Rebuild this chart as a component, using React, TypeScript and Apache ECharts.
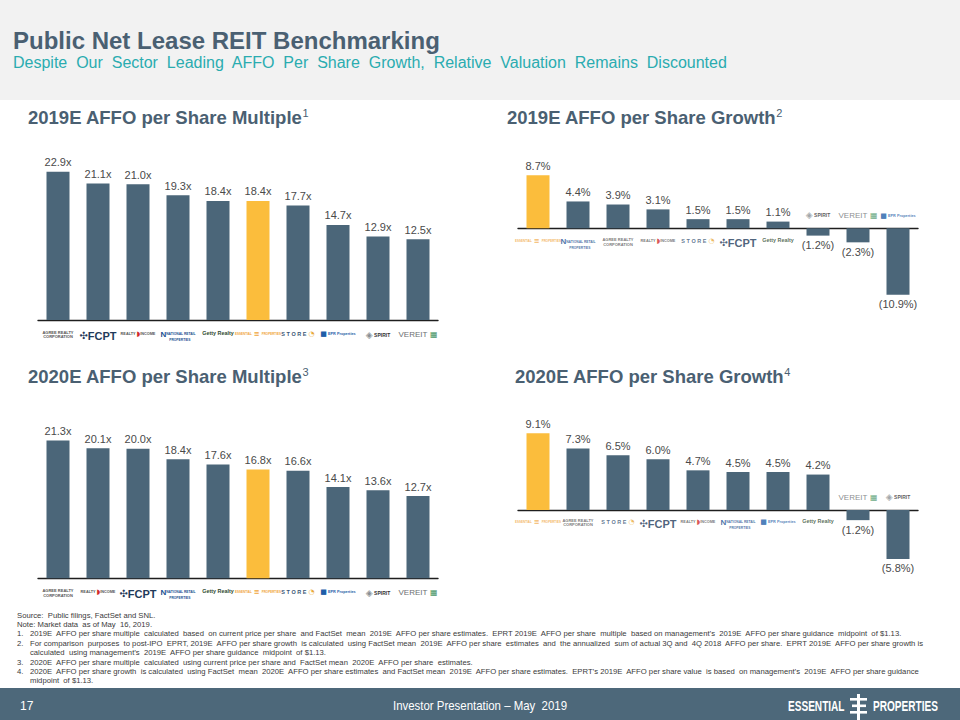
import React, { useEffect, useRef } from 'react';
import * as echarts from 'echarts';

// ---------- data ----------
const mult2019Companies = ['Agree Realty', 'FCPT', 'Realty Income', 'National Retail Properties', 'Getty Realty', 'Essential Properties', 'STORE Capital', 'EPR Properties', 'Spirit Realty', 'VEREIT'];
const mult2019Values = [22.9, 21.1, 21.0, 19.3, 18.4, 18.4, 17.7, 14.7, 12.9, 12.5];

const growth2019Companies = ['Essential Properties', 'National Retail Properties', 'Agree Realty', 'Realty Income', 'STORE Capital', 'FCPT', 'Getty Realty', 'Spirit Realty', 'VEREIT', 'EPR Properties'];
const growth2019Values = [8.7, 4.4, 3.9, 3.1, 1.5, 1.5, 1.1, -1.2, -2.3, -10.9];

const mult2020Companies = ['Agree Realty', 'Realty Income', 'FCPT', 'National Retail Properties', 'Getty Realty', 'Essential Properties', 'STORE Capital', 'EPR Properties', 'Spirit Realty', 'VEREIT'];
const mult2020Values = [21.3, 20.1, 20.0, 18.4, 17.6, 16.8, 16.6, 14.1, 13.6, 12.7];

const growth2020Companies = ['Essential Properties', 'Agree Realty', 'STORE Capital', 'FCPT', 'Realty Income', 'National Retail Properties', 'EPR Properties', 'Getty Realty', 'VEREIT', 'Spirit Realty'];
const growth2020Values = [9.1, 7.3, 6.5, 6.0, 4.7, 4.5, 4.5, 4.2, -1.2, -5.8];

const footnotes = [
  { n: '', t: 'Source:  Public filings, FactSet and SNL.' },
  { n: '', t: 'Note: Market data  as of May  16, 2019.' },
  { n: '1.', t: '2019E  AFFO per share multiple  calculated  based  on current price per share  and FactSet  mean  2019E  AFFO per share estimates.  EPRT 2019E  AFFO per share  multiple  based on management\u2019s  2019E  AFFO per share guidance  midpoint  of $1.13.' },
  { n: '2.', t: 'For comparison  purposes  to post-IPO  EPRT, 2019E  AFFO per share growth  is calculated  using FactSet mean  2019E  AFFO per share  estimates  and  the annualized  sum of actual 3Q and  4Q 2018  AFFO per share.  EPRT 2019E  AFFO per share growth is' },
  { n: '', t: 'calculated  using management\u2019s  2019E  AFFO per share guidance  midpoint  of $1.13.' },
  { n: '3.', t: '2020E  AFFO per share multiple  calculated  using current price per share and  FactSet mean  2020E  AFFO per share  estimates.' },
  { n: '4.', t: '2020E  AFFO per share growth  is calculated  using FactSet  mean  2020E  AFFO per share estimates  and FactSet mean  2019E  AFFO per share estimates.  EPRT\u2019s 2019E  AFFO per share value  is based  on management\u2019s  2019E  AFFO per share guidance' },
  { n: '', t: 'midpoint  of $1.13.' },
];

// ---------- styling ----------
const SLATE = '#4b6679';
const GOLD = '#fbbd3c';
const TITLE = '#4a6072';
const FONT = 'Liberation Sans, Arial, sans-serif';

const LOGO: Record<string, string> = {
  'Agree Realty': '{ag|AGREE REALTY}\n{ag|CORPORATION}',
  'FCPT': '{fci|\u2723}{fc|FCPT}',
  'Realty Income': '{ri|REALTY }{rio|\u25D7}{ri|INCOME}',
  'National Retail Properties': '{nni|N}{nn|NATIONAL RETAIL}\n{nn|    PROPERTIES}',
  'Getty Realty': '{gt|Getty Realty}',
  'Essential Properties': '{es|ESSENTIAL}{esi|\u2261}{es|PROPERTIES}',
  'STORE Capital': '{st|S T O R E}{sti| \u25D4}',
  'EPR Properties': '{epi|\u25A0}{ep| EPR Properties}',
  'Spirit Realty': '{spi|\u25C8}{sp| SPIRIT}',
  'VEREIT': '{ve|VEREIT}{vei| \u25A6}',
};

const logoRich = {
  ag: { fontSize: 4, color: '#555', fontWeight: 'bold', fontFamily: FONT, lineHeight: 4.6 },
  fci: { fontSize: 10, color: '#1f3a5a', fontFamily: 'DejaVu Sans' },
  fc: { fontSize: 11, color: '#1f3a5a', fontWeight: 'bold', fontFamily: FONT },
  ri: { fontSize: 3.8, color: '#555', fontWeight: 'bold', fontFamily: FONT },
  rio: { fontSize: 7, color: '#d22a2a', fontFamily: 'DejaVu Sans' },
  nni: { fontSize: 8, color: '#1d4f91', fontWeight: 'bold', fontFamily: FONT },
  nn: { fontSize: 3.3, color: '#1d4f91', fontWeight: 'bold', fontFamily: FONT, lineHeight: 4 },
  gt: { fontSize: 5.4, color: '#2f4a30', fontWeight: 'bold', fontFamily: FONT },
  es: { fontSize: 3, color: '#f0a53a', fontWeight: 'bold', fontFamily: FONT },
  esi: { fontSize: 7, color: '#f0a53a', fontWeight: 'bold', fontFamily: 'DejaVu Sans', padding: [0, 2, 0, 2] },
  st: { fontSize: 5.5, color: '#3b5676', fontWeight: 'bold', fontFamily: FONT },
  sti: { fontSize: 7, color: '#e8a93a', fontFamily: 'DejaVu Sans' },
  epi: { fontSize: 7, color: '#1e5ea8', fontFamily: 'DejaVu Sans' },
  ep: { fontSize: 3.8, color: '#1e5ea8', fontWeight: 'bold', fontFamily: FONT },
  spi: { fontSize: 9, color: '#8a8f94', fontFamily: 'DejaVu Sans' },
  sp: { fontSize: 5, color: '#333', fontWeight: 'bold', fontFamily: FONT },
  ve: { fontSize: 8, color: '#6c6f72', fontFamily: FONT },
  vei: { fontSize: 8, color: '#3f8f5a', fontFamily: 'DejaVu Sans' },
};

const multLabel = (v: number) => `${v.toFixed(1)}x`;
const growthLabel = (v: number) => (v < 0 ? `(${Math.abs(v).toFixed(1)}%)` : `${v.toFixed(1)}%`);

function barData(names: string[], vals: number[]) {
  return vals.map((v, i) => ({
    value: v,
    itemStyle: { color: names[i] === 'Essential Properties' ? GOLD : SLATE },
    label: { position: v < 0 ? 'bottom' : 'top' },
  }));
}

function barSeries(names: string[], vals: number[], xi: number, yi: number, fmt: (v: number) => string) {
  return {
    type: 'bar',
    xAxisIndex: xi,
    yAxisIndex: yi,
    barWidth: 23,
    data: barData(names, vals),
    label: {
      show: true,
      distance: 4,
      fontSize: 11,
      fontWeight: 'normal',
      fontFamily: FONT,
      color: '#4a4a4a',
      formatter: (p: any) => fmt(p.value),
    },
  };
}

// logos anchored at the zero line: below for positive bars, above for negative ones
function logoSeries(names: string[], vals: number[], xi: number, yi: number, dist: number) {
  return {
    type: 'scatter',
    xAxisIndex: xi,
    yAxisIndex: yi,
    symbolSize: 0.1,
    silent: true,
    itemStyle: { color: 'transparent' },
    data: names.map((n, i) => ({ value: [n, 0], label: { position: vals[i] < 0 ? 'top' : 'bottom' } })),
    label: {
      show: true,
      distance: dist,
      formatter: (p: any) => LOGO[p.value[0]] || p.value[0],
      rich: logoRich,
    },
  };
}

function catAxis(gridIndex: number, names: string[], showLabels: boolean) {
  return {
    type: 'category',
    gridIndex,
    data: names,
    boundaryGap: true,
    axisLine: { show: true, onZero: true, lineStyle: { color: '#1e1e1e', width: 1.4 } },
    axisTick: { show: false },
    splitLine: { show: false },
    axisLabel: {
      show: showLabels,
      interval: 0,
      margin: 10,
      hideOverlap: false,
      formatter: (val: string) => LOGO[val] || val,
      rich: logoRich,
    },
  };
}

function valAxis(gridIndex: number, min: number, max: number) {
  return { type: 'value', gridIndex, min, max, show: false, splitLine: { show: false } };
}

function chartTitle(x: number, y: number, main: string, sup: string) {
  return {
    type: 'text',
    x,
    y,
    style: {
      text: `{t|${main}}{s|${sup}}`,
      verticalAlign: 'middle',
      rich: {
        t: { fontSize: 18.5, fontWeight: 'bold', fill: TITLE, fontFamily: FONT, lineHeight: 20, verticalAlign: 'bottom' },
        s: { fontSize: 11, fill: TITLE, fontFamily: FONT, lineHeight: 20, verticalAlign: 'top' },
      },
    },
  };
}

export default function App() {
  const ref = useRef<HTMLDivElement>(null);
  useEffect(() => {
    if (!ref.current) return;
    const chart = echarts.init(ref.current, null, { renderer: 'svg' });

    const fnGraphics: any[] = [];
    const fnY0 = 615;
    const fnStep = 9.4;
    footnotes.forEach((f, i) => {
      const y = fnY0 + i * fnStep;
      const indent = f.n !== '' || i > 1;
      if (f.n) {
        fnGraphics.push({ type: 'text', x: 17, y, style: { text: f.n, fontSize: 7.7, fontFamily: FONT, fill: '#3a3a3a', verticalAlign: 'middle' } });
      }
      fnGraphics.push({ type: 'text', x: indent ? 30 : 17, y, style: { text: f.t, fontSize: 7.7, fontFamily: FONT, fill: '#3a3a3a', verticalAlign: 'middle' } });
    });

    const option: any = {
      animation: false,
      backgroundColor: '#ffffff',
      grid: [
        { left: 38, top: 158.25, width: 400, height: 161.75 },
        { left: 518, top: 167.3, width: 400, height: 134.2 },
        { left: 38, top: 416.5, width: 400, height: 161.75 },
        { left: 518, top: 425.6, width: 400, height: 143.5 },
      ],
      xAxis: [
        catAxis(0, mult2019Companies, true),
        catAxis(1, growth2019Companies, false),
        catAxis(2, mult2020Companies, true),
        catAxis(3, growth2020Companies, false),
      ],
      yAxis: [
        valAxis(0, 0, 25),
        valAxis(1, -12, 10),
        valAxis(2, 0, 25),
        valAxis(3, -7, 10),
      ],
      series: [
        barSeries(mult2019Companies, mult2019Values, 0, 0, multLabel),
        barSeries(growth2019Companies, growth2019Values, 1, 1, growthLabel),
        logoSeries(growth2019Companies, growth2019Values, 1, 1, 9),
        barSeries(mult2020Companies, mult2020Values, 2, 2, multLabel),
        barSeries(growth2020Companies, growth2020Values, 3, 3, growthLabel),
        logoSeries(growth2020Companies, growth2020Values, 3, 3, 8),
      ],
      graphic: [
        { type: 'rect', shape: { x: 0, y: 0, width: 960, height: 100 }, style: { fill: '#f2f2f2' }, z: -10 },
        { type: 'text', x: 13, y: 40, style: { text: 'Public Net Lease REIT Benchmarking', fontSize: 24, fontWeight: 'bold', fontFamily: FONT, fill: TITLE, verticalAlign: 'middle' } },
        { type: 'text', x: 13, y: 62, style: { text: 'Despite  Our  Sector  Leading  AFFO  Per  Share  Growth,  Relative  Valuation  Remains  Discounted', fontSize: 16, fontFamily: FONT, fill: '#2aacb0', verticalAlign: 'middle' } },
        chartTitle(28, 117, '2019E AFFO per Share Multiple', '1'),
        chartTitle(507, 117, '2019E AFFO per Share Growth', '2'),
        chartTitle(28, 376, '2020E AFFO per Share Multiple', '3'),
        chartTitle(515, 376, '2020E AFFO per Share Growth', '4'),
        ...fnGraphics,
        { type: 'rect', shape: { x: 0, y: 688, width: 960, height: 32 }, style: { fill: '#4d687a' } },
        { type: 'text', x: 20, y: 706, style: { text: '17', fontSize: 12, fontFamily: FONT, fill: '#ffffff', verticalAlign: 'middle' } },
        { type: 'text', x: 480, y: 706, scaleX: 0.88, originX: 0, originY: 0, style: { text: 'Investor Presentation \u2013 May  2019', fontSize: 13, fontFamily: FONT, fill: '#ffffff', align: 'center', verticalAlign: 'middle' } },
        { type: 'text', x: 788, y: 706, scaleX: 0.72, style: { text: 'ESSENTIAL', fontSize: 14, fontWeight: 'bold', fontFamily: FONT, fill: '#ffffff', verticalAlign: 'middle' } },
        { type: 'rect', shape: { x: 857, y: 694, width: 3, height: 26 }, style: { fill: '#ffffff' } },
        { type: 'rect', shape: { x: 850, y: 698, width: 17, height: 2.6 }, style: { fill: '#ffffff' } },
        { type: 'rect', shape: { x: 852, y: 704.5, width: 14, height: 2.6 }, style: { fill: '#ffffff' } },
        { type: 'rect', shape: { x: 850, y: 711, width: 17, height: 2.6 }, style: { fill: '#ffffff' } },
        { type: 'text', x: 873, y: 706, scaleX: 0.72, style: { text: 'PROPERTIES', fontSize: 14, fontWeight: 'bold', fontFamily: FONT, fill: '#ffffff', verticalAlign: 'middle' } },
      ],
    };
    chart.setOption(option);
    return () => chart.dispose();
  }, []);
  return <div ref={ref} style={{ position: 'absolute', left: 0, top: 0, width: 960, height: 720 }} />;
}
